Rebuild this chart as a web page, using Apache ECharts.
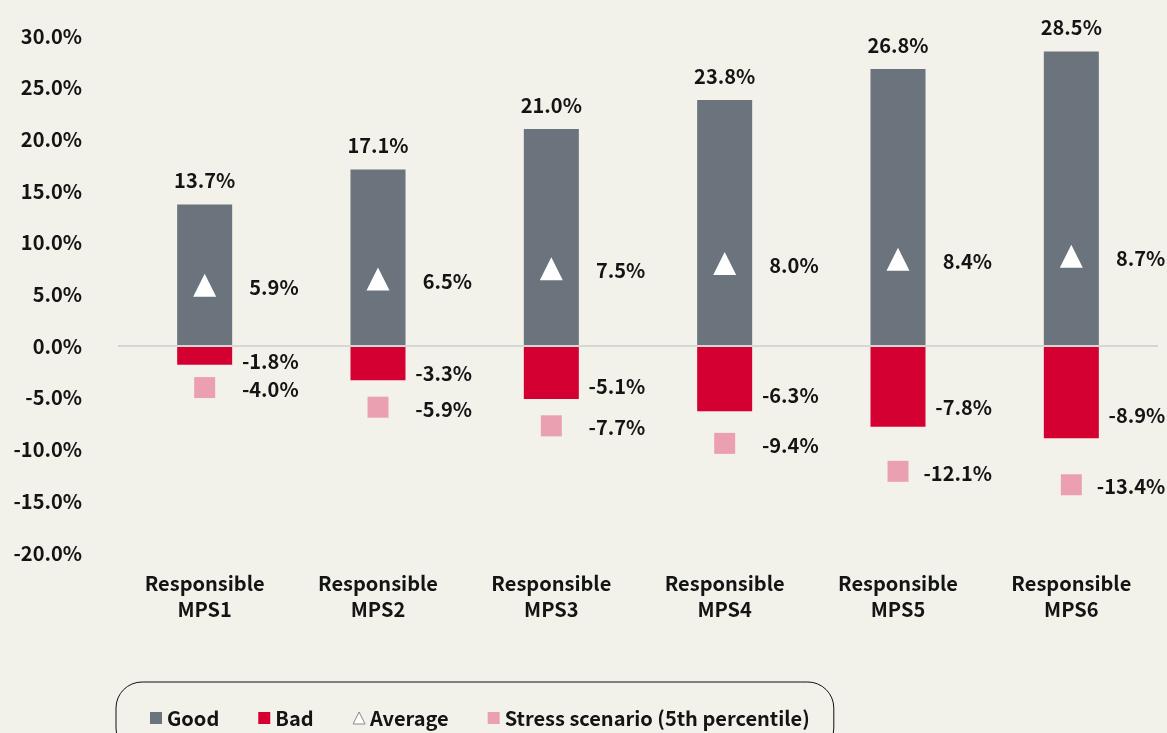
<!DOCTYPE html>
<html>
<head>
<meta charset="utf-8">
<script src="https://cdn.jsdelivr.net/npm/echarts@6/dist/echarts.min.js"></script>
<style>
  html, body { margin: 0; padding: 0; background: #f2f1ea; }
  #chart { width: 1167px; height: 733px; }
</style>
</head>
<body>
<div id="chart"></div>
<script>
const categories = ['Responsible\nMPS1', 'Responsible\nMPS2', 'Responsible\nMPS3', 'Responsible\nMPS4', 'Responsible\nMPS5', 'Responsible\nMPS6']
const goodValues = [13.7, 17.1, 21.0, 23.8, 26.8, 28.5]
const badValues = [-1.8, -3.3, -5.1, -6.3, -7.8, -8.9]
const averageValues = [5.9, 6.5, 7.5, 8.0, 8.4, 8.7]
const stressValues = [-4.0, -5.9, -7.7, -9.4, -12.1, -13.4]

const font = 'Noto Sans CJK JP'
const textColor = '#141414'
const goodColor = '#6b737c'
const badColor = '#d50032'
const stressColor = '#eba0b1'

const pct = v => v.toFixed(1) + '%'

// labels sit right-aligned a fixed distance right of each mark's centre
const rightLabel = {
  show: true,
  position: 'inside',
  align: 'right',
  offset: [94, 2],
  fontFamily: font,
  fontSize: 20,
  fontWeight: 'bold',
  color: textColor,
  formatter: p => pct(p.value)
}

const chart = echarts.init(document.getElementById('chart'))
const options = {
  backgroundColor: '#f2f1ea',
  animation: false,
  textStyle: { fontFamily: font },
  grid: {
    left: 118,
    right: 9,
    top: 36,
    bottom: 180
  },
  legend: {
    left: 116,
    top: 682,
    padding: [26, 24, 26, 34],
    borderColor: '#111',
    borderWidth: 1,
    borderRadius: 26,
    itemWidth: 12,
    itemHeight: 12,
    itemGap: 39,
    textStyle: { fontFamily: font, fontSize: 20, fontWeight: 'bold', color: textColor },
    data: [
      { name: 'Good', icon: 'rect' },
      { name: 'Bad', icon: 'rect' },
      { name: 'Average', icon: 'triangle', itemStyle: { color: '#fff', borderColor: '#888', borderWidth: 1 } },
      { name: 'Stress scenario (5th percentile)', icon: 'rect' }
    ]
  },
  xAxis: {
    type: 'category',
    data: categories,
    axisLine: { show: false },
    axisTick: { show: false },
    axisLabel: {
      margin: 17,
      fontFamily: font,
      fontSize: 20,
      fontWeight: 'bold',
      lineHeight: 26,
      color: textColor
    }
  },
  yAxis: {
    type: 'value',
    min: -20,
    max: 30,
    interval: 5,
    splitLine: { show: false },
    axisLine: { show: false },
    axisTick: { show: false },
    axisLabel: {
      margin: 36,
      fontFamily: font,
      fontSize: 20,
      fontWeight: 'bold',
      color: textColor,
      formatter: v => v.toFixed(1) + '%'
    }
  },
  series: [
    {
      name: 'Good',
      type: 'bar',
      barWidth: 55,
      barGap: '-100%',
      data: goodValues,
      itemStyle: { color: goodColor },
      label: {
        show: true,
        position: 'top',
        distance: 14,
        fontFamily: font,
        fontSize: 20,
        fontWeight: 'bold',
        color: textColor,
        formatter: p => pct(p.value)
      },
      markLine: {
        silent: true,
        symbol: 'none',
        label: { show: false },
        lineStyle: { color: '#d6d6d3', width: 2, type: 'solid' },
        data: [{ yAxis: 0 }]
      },
      z: 2
    },
    {
      name: 'Bad',
      type: 'bar',
      barWidth: 55,
      data: badValues.map(v => ({
        value: v,
        label: { offset: [94, 2 - v * 2.4] }
      })),
      itemStyle: { color: badColor },
      label: rightLabel,
      z: 2
    },
    {
      name: 'Average',
      type: 'scatter',
      symbol: 'triangle',
      symbolSize: 23,
      data: averageValues,
      itemStyle: { color: '#ffffff', opacity: 1 },
      label: rightLabel,
      z: 3
    },
    {
      name: 'Stress scenario (5th percentile)',
      type: 'scatter',
      symbol: 'rect',
      symbolSize: 21,
      data: stressValues,
      itemStyle: { color: stressColor, opacity: 1 },
      label: rightLabel,
      z: 3
    }
  ]
}
chart.setOption(options)
</script>
</body>
</html>
